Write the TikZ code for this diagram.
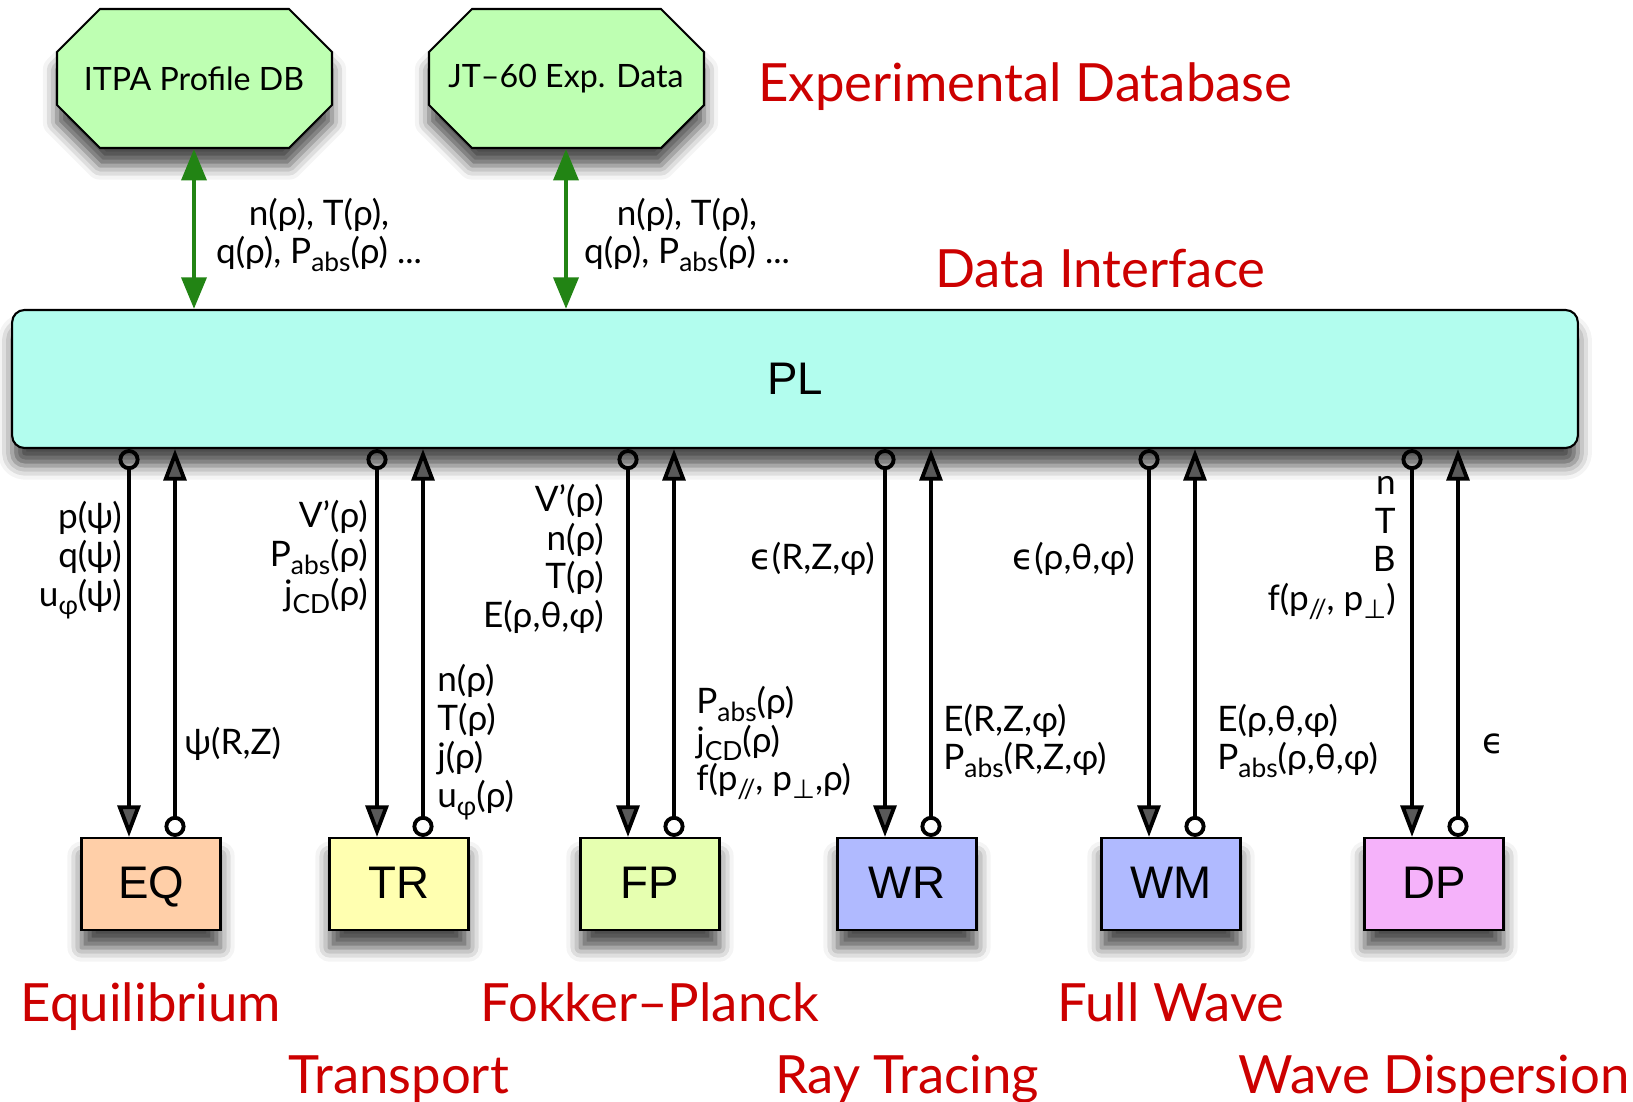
\documentclass[tikz,border=0pt]{standalone}
\usepackage{fontspec}
\setmainfont{Lato}
\newfontfamily\boxfont{Liberation Sans}
\newfontfamily\symfont{DejaVu Sans}
\usetikzlibrary{arrows.meta, shadows.blur}

\definecolor{plcyan}{RGB}{178,253,238}
\definecolor{eqpeach}{RGB}{255,207,168}
\definecolor{tryellow}{RGB}{255,255,176}
\definecolor{fplime}{RGB}{230,255,176}
\definecolor{wavblue}{RGB}{176,186,255}
\definecolor{dppink}{RGB}{245,178,250}
\definecolor{dbgreen}{RGB}{190,255,178}
\definecolor{arrgreen}{RGB}{34,132,20}
\definecolor{titlered}{RGB}{204,0,0}

\newcommand{\sbs}[1]{\raisebox{-0.45ex}{\fontsize{15}{15}\selectfont #1}}
\newcommand{\eps}{{\symfont ϵ}}
\newcommand{\perpsym}{{\symfont ⊥}}

\begin{document}
\begin{tikzpicture}[x=0.02cm, y=-0.02cm,
    shade/.style={blur shadow={shadow xshift=0pt, shadow yshift=-10pt, shadow blur radius=8pt, shadow opacity=70}},
    plbox/.style={draw=black, fill=plcyan, line width=1.2pt, rounded corners=7pt,
        minimum width=31.32cm, minimum height=2.76cm,
        font=\boxfont\fontsize{26}{30}\selectfont, shade},
    code/.style={draw=black, line width=1.2pt, minimum width=2.78cm, minimum height=1.84cm,
        text height=19pt, text depth=3pt, font=\boxfont\fontsize{26}{30}\selectfont, shade},
    db/.style={minimum width=5.5cm, minimum height=2.78cm, font=\fontsize{18.3}{21}\selectfont},
    dbline/.style={draw=black, fill=dbgreen, line width=1.2pt, shade},
    lbl/.style={inner sep=0pt, font=\fontsize{20}{22}\selectfont},
    title/.style={inner sep=0pt, anchor=base, text=titlered, font=\fontsize{30}{34}\selectfont},
    dbarr/.style={{Triangle[length=18pt,width=14pt]}-{Triangle[length=18pt,width=14pt]}, arrgreen, line width=2.8pt},
    link/.style={{Circle[open,length=12pt]}-{Triangle[length=18pt,width=13pt]}, line width=2.2pt}
  ]
  \useasboundingbox (0,0) rectangle (1633,1102);

  % experimental databases
  \foreach \cx/\nm/\txt in {194/itpa/ITPA Profile DB, 566/jtdata/JT--60 Exp. Data} {
    \draw[dbline] (\cx-137,52) -- ++(43,-43) -- ++(189,0) -- ++(43,43) -- ++(0,53)
      -- ++(-43,43) -- ++(-189,0) -- ++(-43,-43) -- cycle;
    \node[db] (\nm) at (\cx,79) {\txt};
  }

  \node[plbox] (pl) at (795,379) {PL};

  \node[code, fill=eqpeach] (eq) at (151,884) {EQ};
  \node[code, fill=tryellow] (tr) at (399,884) {TR};
  \node[code, fill=fplime] (fp) at (650,884) {FP};
  \node[code, fill=wavblue] (wr) at (907,884) {WR};
  \node[code, fill=wavblue] (wm) at (1171,884) {WM};
  \node[code, fill=dppink] (dp) at (1434,884) {DP};

  \draw[dbarr] (itpa.south) -- (itpa.south |- pl.north);
  \draw[dbarr] (jtdata.south) -- (jtdata.south |- pl.north);

  \foreach \b in {eq,tr,fp,wr,wm,dp} {
    \draw[link] ([xshift=-0.44cm]\b.north |- pl.south) -- ([xshift=-0.44cm]\b.north);
    \draw[link] ([xshift=0.48cm]\b.north) -- ([xshift=0.48cm]\b.north |- pl.south);
  }

  % data on the links
  \node[lbl, align=center] (itpaq) at (319,235) {n(ρ), T(ρ),\\q(ρ), P\sbs{abs}(ρ) ...};
  \node[lbl, align=center] (jtq) at (687,235) {n(ρ), T(ρ),\\q(ρ), P\sbs{abs}(ρ) ...};

  \node[lbl, anchor=east, align=right] (eqin) at (122,560) {p(ψ)\\q(ψ)\\u\sbs{φ}(ψ)};
  \node[lbl, anchor=west] (eqout) at (184,744) {ψ(R,Z)};
  \node[lbl, anchor=east, align=right] (trin) at (368,557) {V'(ρ)\\P\sbs{abs}(ρ)\\j\sbs{CD}(ρ)};
  \node[lbl, anchor=west, align=left] (trout) at (437,742) {n(ρ)\\T(ρ)\\j(ρ)\\u\sbs{φ}(ρ)};
  \node[lbl, anchor=east, align=right] (fpin) at (604,559) {V'(ρ)\\n(ρ)\\T(ρ)\\E(ρ,θ,φ)};
  \node[lbl, anchor=west, align=left] (fpout) at (696,743) {P\sbs{abs}(ρ)\\j\sbs{CD}(ρ)\\f(p\sbs{//}, p\sbs{\perpsym},ρ)};
  \node[lbl, anchor=east] (wrin) at (875,559) {\eps(R,Z,φ)};
  \node[lbl, anchor=west, align=left] (wrout) at (943,741) {E(R,Z,φ)\\P\sbs{abs}(R,Z,φ)};
  \node[lbl, anchor=east] (wmin) at (1135,559) {\eps(ρ,θ,φ)};
  \node[lbl, anchor=west, align=left] (wmout) at (1217,741) {E(ρ,θ,φ)\\P\sbs{abs}(ρ,θ,φ)};
  \node[lbl, anchor=east, align=right] (dpin) at (1396,548) {n\\T\\B\\f(p\sbs{//}, p\sbs{\perpsym})};
  \node[lbl, anchor=west] (dpout) at (1482,744) {\eps};

  % red captions
  \node[title, anchor=base west] (expdb) at (758,101) {Experimental Database};
  \node[title, anchor=base west] (dataif) at (935,287) {Data Interface};
  \node[title] (eqname) at (151,1021) {Equilibrium};
  \node[title] (trname) at (399,1093) {Transport};
  \node[title] (fpname) at (650,1021) {Fokker--Planck};
  \node[title] (wrname) at (907,1093) {Ray Tracing};
  \node[title] (wmname) at (1171,1021) {Full Wave};
  \node[title] (dpname) at (1434,1093) {Wave Dispersion};
\end{tikzpicture}
\end{document}
